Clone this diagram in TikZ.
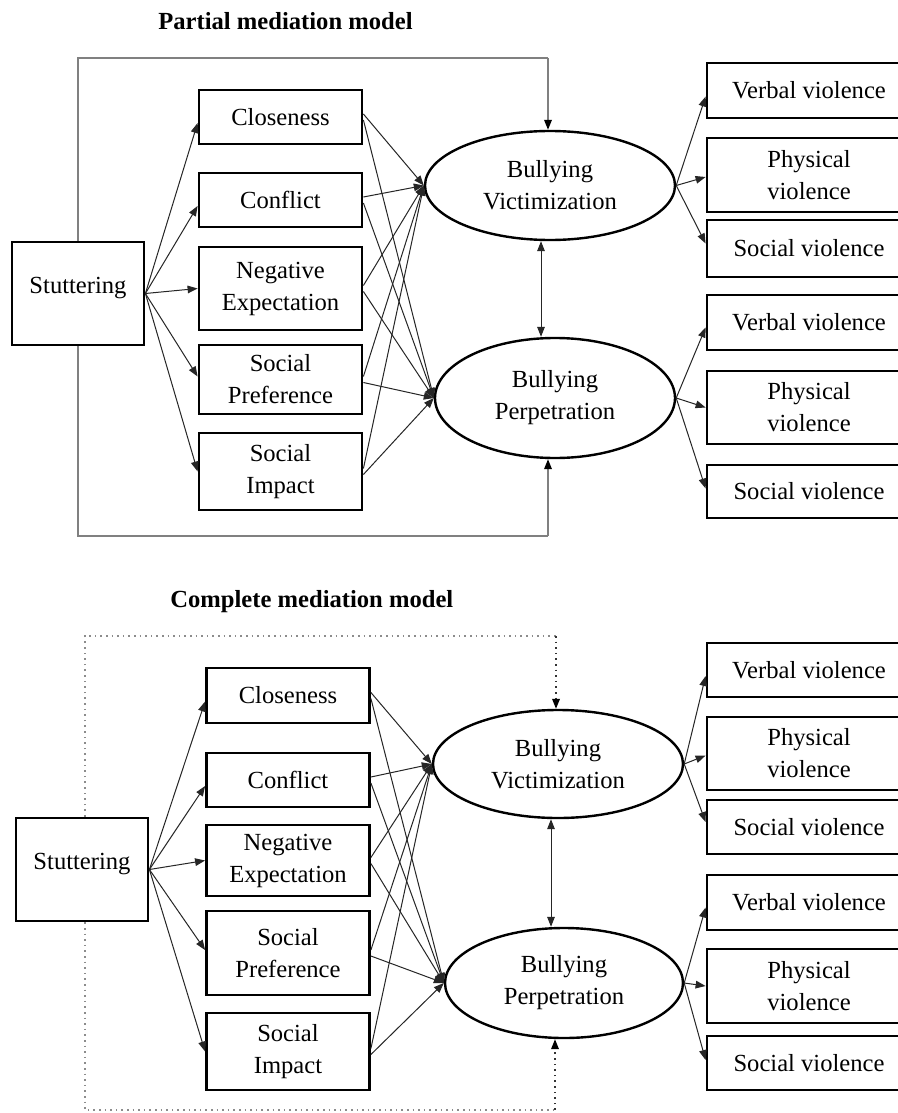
\documentclass[tikz,border=0pt]{standalone}
\usepackage{fontspec}
\setmainfont{Liberation Serif}
\usetikzlibrary{shapes.geometric,arrows.meta}

\newcommand\fsz{\fontsize{12.3}{16}\selectfont}

\tikzset{
  sq/.style={draw=black, line width=1.4pt, fill=white, align=center, inner sep=1pt},
  oval/.style={ellipse, draw=black, line width=1.2pt, fill=white, align=center, inner sep=0pt},
  tipshape/.style={},
  link/.style={-{Triangle[length=5pt,width=3.8pt]}, line width=0.5pt, draw=black!85},
  twoway/.style={{Triangle[length=5pt,width=3.8pt]}-{Triangle[length=5pt,width=3.8pt]}, line width=0.5pt, draw=black!85},
  frameA/.style={draw=black!50, line width=0.8pt},
  frameB/.style={draw=black!45, line width=0.8pt, dotted},
  frametip/.style={-{Triangle[length=5pt,width=3.8pt,color=black]}},
  heading/.style={font=\fsz\bfseries, anchor=base west, inner sep=0pt},
  med/.style={sq, minimum width=81.5pt},
  indic/.style={sq, minimum width=102pt},
}

% arrows of one model: stuttering -> mediators -> outcomes -> indicators
\newcommand\wiring[1]{%
  \foreach \m/\s in {clo/-3pt, con/-3pt, neg/0pt, pre/1.5pt, imp/0pt}
    {\draw[link] (#1stut.east) -- ([yshift=\s]#1\m.west);}
  \foreach \m in {clo,con,neg,pre,imp} {
    \draw[link] ([yshift=1.5pt]#1\m.east) -- (#1vic.west);
    \draw[link] ([yshift=-1.5pt]#1\m.east) -- (#1per.west);
  }
  \draw[link] (#1vic.east) -- ([yshift=-3pt]#1va.west);
  \draw[link] (#1vic.east) -- ([yshift=-1pt]#1pa.west);
  \draw[link] (#1vic.east) -- ([yshift=2.5pt]#1sa.west);
  \draw[link] (#1per.east) -- ([yshift=-2.5pt]#1vb.west);
  \draw[link] (#1per.east) -- (#1pb.west);
  \draw[link] (#1per.east) -- ([yshift=1.5pt]#1sb.west);
}

\begin{document}
\begin{tikzpicture}[x=0.5pt, y=-0.5pt, font=\fsz]
\clip (0,0) rectangle (898,1113);
\fill[white] (0,0) rectangle (898,1113);

% ---------- partial mediation model ----------
\node[heading] (ptitle) at (158,30) {Partial mediation model};

\node[sq, minimum width=66pt, minimum height=51.5pt] (pstut) at (78,293.5) {};
\node[anchor=base] (pstutlbl) at (pstut.center) {Stuttering};

\node[med, minimum height=27pt]   (pclo) at (280.5,117)   {Closeness};
\node[med, minimum height=27pt]   (pcon) at (280.5,200)   {Conflict};
\node[med, minimum height=41.5pt] (pneg) at (280.5,288.5) {Negative\\Expectation};
\node[med, minimum height=34.5pt] (ppre) at (280.5,379.5) {Social\\Preference};
\node[med, minimum height=38.5pt] (pimp) at (280.5,471.5) {Social\\Impact};

\node[oval, minimum width=125pt, minimum height=54.5pt] (pvic) at (550,185.5) {Bullying\\Victimization};
\node[oval, minimum width=120pt, minimum height=60pt]   (pper) at (555,398)   {Bullying\\Perpetration};

\node[indic, minimum height=27.5pt] (pva) at (809,90.5)  {Verbal violence};
\node[indic, minimum height=37pt]   (ppa) at (809,175)   {Physical\\violence};
\node[indic, minimum height=28.5pt] (psa) at (809,248.5) {Social violence};
\node[indic, minimum height=27.5pt] (pvb) at (809,322.5) {Verbal violence};
\node[indic, minimum height=36.5pt] (ppb) at (809,407.5) {Physical\\violence};
\node[indic, minimum height=26.5pt] (psb) at (809,491.5) {Social violence};

\coordinate (pft) at (548,58);
\coordinate (pfb) at (548,536);
\draw[frameA] (pstut.north) |- (pft);
\draw[frameA, frametip] (pft) -- (pvic.north -| pft);
\draw[frameA] (pstut.south) |- (pfb);
\draw[frameA, frametip] (pfb) -- (pper.south -| pfb);

\coordinate (pdx) at (541,0);
\draw[twoway] (pvic.south -| pdx) -- (pper.north -| pdx);

\wiring{p}

% ---------- complete mediation model ----------
\node[heading] (ctitle) at (170,607) {Complete mediation model};

\node[sq, minimum width=66pt, minimum height=51.5pt] (cstut) at (82,869.5) {};
\node[anchor=base] (cstutlbl) at (cstut.center) {Stuttering};

\node[med, minimum height=27.5pt] (cclo) at (288,695.5)  {Closeness};
\node[med, minimum height=27pt]   (ccon) at (288,780)    {Conflict};
\node[med, minimum height=35.5pt] (cneg) at (288,860.5)  {Negative\\Expectation};
\node[med, minimum height=42pt]   (cpre) at (288,953)    {Social\\Preference};
\node[med, minimum height=38.5pt] (cimp) at (288,1051.5) {Social\\Impact};

\node[oval, minimum width=125pt, minimum height=54pt] (cvic) at (558,764) {Bullying\\Victimization};
\node[oval, minimum width=119pt, minimum height=55pt] (cper) at (564,983) {Bullying\\Perpetration};

\node[indic, minimum height=27pt]   (cva) at (809,670)   {Verbal violence};
\node[indic, minimum height=36.5pt] (cpa) at (809,753.5) {Physical\\violence};
\node[indic, minimum height=27pt]   (csa) at (809,827)   {Social violence};
\node[indic, minimum height=27.5pt] (cvb) at (809,902.5) {Verbal violence};
\node[indic, minimum height=37pt]   (cpb) at (809,986)   {Physical\\violence};
\node[indic, minimum height=27pt]   (csb) at (809,1063)  {Social violence};

\coordinate (cfl) at (85,0);
\coordinate (cft) at (556,636);
\coordinate (cfb) at (555,1110);
\draw[frameB] (cstut.north -| cfl) |- (cft);
\draw[frameB, draw=black!80, frametip] (cft) -- (cvic.north -| cft);
\draw[frameB] (cstut.south -| cfl) |- (cfb);
\draw[frameB, draw=black!80, frametip] (cfb) -- (cper.south -| cfb);

\coordinate (cdx) at (551,0);
\draw[twoway] (cvic.south -| cdx) -- (cper.north -| cdx);

\wiring{c}
\end{tikzpicture}
\end{document}
